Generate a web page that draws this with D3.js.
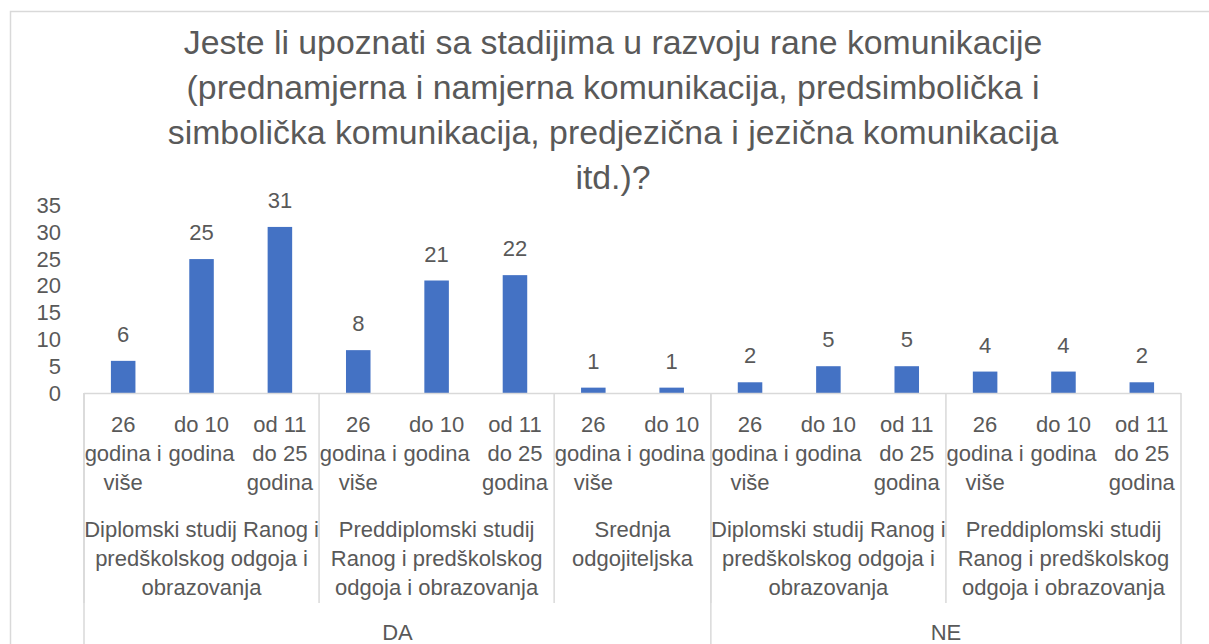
<!DOCTYPE html>
<html><head><meta charset="utf-8">
<script src="https://cdn.jsdelivr.net/npm/d3@7"></script>
<style>
body{margin:0;background:#fff}
text{font-family:'Liberation Sans',Arial,sans-serif;fill:#595959}
</style></head>
<body><svg id="c" width="1209" height="644"></svg>
<script>
const titleLines = [
  "Jeste li upoznati sa stadijima u razvoju rane komunikacije",
  "(prednamjerna i namjerna komunikacija, predsimbolička i",
  "simbolička komunikacija, predjezična i jezična komunikacija",
  "itd.)?"
];
const answers = ["DA","DA","DA","DA","DA","DA","DA","DA","NE","NE","NE","NE","NE","NE"];
const programmes = [
  "Diplomski studij Ranog i\npredškolskog odgoja i\nobrazovanja",
  "Diplomski studij Ranog i\npredškolskog odgoja i\nobrazovanja",
  "Diplomski studij Ranog i\npredškolskog odgoja i\nobrazovanja",
  "Preddiplomski studij\nRanog i predškolskog\nodgoja i obrazovanja",
  "Preddiplomski studij\nRanog i predškolskog\nodgoja i obrazovanja",
  "Preddiplomski studij\nRanog i predškolskog\nodgoja i obrazovanja",
  "Srednja\nodgojiteljska",
  "Srednja\nodgojiteljska",
  "Diplomski studij Ranog i\npredškolskog odgoja i\nobrazovanja",
  "Diplomski studij Ranog i\npredškolskog odgoja i\nobrazovanja",
  "Diplomski studij Ranog i\npredškolskog odgoja i\nobrazovanja",
  "Preddiplomski studij\nRanog i predškolskog\nodgoja i obrazovanja",
  "Preddiplomski studij\nRanog i predškolskog\nodgoja i obrazovanja",
  "Preddiplomski studij\nRanog i predškolskog\nodgoja i obrazovanja"
];
const ages = [
  "26\ngodina i\nviše","do 10\ngodina","od 11\ndo 25\ngodina",
  "26\ngodina i\nviše","do 10\ngodina","od 11\ndo 25\ngodina",
  "26\ngodina i\nviše","do 10\ngodina",
  "26\ngodina i\nviše","do 10\ngodina","od 11\ndo 25\ngodina",
  "26\ngodina i\nviše","do 10\ngodina","od 11\ndo 25\ngodina"
];
const values = [6,25,31,8,21,22,1,1,2,5,5,4,4,2];
const yTicks = [0,5,10,15,20,25,30,35];

const svg = d3.select("#c");
const grid = "#d9d9d9";
const labelSize = 22, titleSize = 33.8;
const axisY = 393, left = 84, right = 1181;

// chart border
svg.append("rect").attr("x",10.5).attr("y",11.5).attr("width",1220).attr("height",700)
  .attr("fill","none").attr("stroke",grid).attr("stroke-width",1.5);

// title
svg.append("g").selectAll("text").data(titleLines).join("text")
  .attr("x",613).attr("y",(d,i)=>54+i*45).attr("text-anchor","middle")
  .attr("font-size",titleSize).text(d=>d);

const idx = d3.range(values.length);
const x = d3.scaleBand().domain(idx).range([left,right]).paddingInner(0.687).paddingOuter(0.3435);
const y = d3.scaleLinear().domain([0,35]).range([axisY,205.5]);

// y axis
const ya = svg.append("g").attr("transform",`translate(${left},0)`)
  .call(d3.axisLeft(y).tickValues(yTicks).tickSize(0).tickPadding(23));
ya.select(".domain").remove();
ya.selectAll("text").attr("font-size",labelSize).attr("fill","#595959")
  .attr("font-family","'Liberation Sans',Arial,sans-serif");

// bars
svg.append("g").selectAll("rect").data(idx).join("rect")
  .attr("x",i=>x(i)).attr("width",x.bandwidth())
  .attr("y",i=>y(values[i])).attr("height",i=>axisY-y(values[i]))
  .attr("fill","#4472C4");

// data labels
svg.append("g").selectAll("text").data(idx).join("text")
  .attr("x",i=>x(i)+x.bandwidth()/2).attr("y",i=>y(values[i])-19)
  .attr("text-anchor","middle").attr("font-size",labelSize).text(i=>values[i]);

// category axis line
svg.append("line").attr("x1",left).attr("x2",right).attr("y1",axisY+0.5).attr("y2",axisY+0.5)
  .attr("stroke",grid).attr("stroke-width",1.5);

const step = x.step();
const cx = i => x(i)+x.bandwidth()/2;

function multiline(g, text, xc, y0, lh){
  const t = g.append("text").attr("text-anchor","middle").attr("font-size",labelSize);
  text.split("\n").forEach((l,k)=>t.append("tspan").attr("x",xc).attr("y",y0+k*lh).text(l));
}

// level 0: ages
const g0 = svg.append("g");
idx.forEach(i=>multiline(g0, ages[i], cx(i), 432, 29));

// runs
function runs(keyFn){
  const out=[]; idx.forEach(i=>{
    const k=keyFn(i);
    if(out.length && out[out.length-1].key===k) out[out.length-1].end=i;
    else out.push({key:k,start:i,end:i});
  }); return out;
}
const r1 = runs(i=>answers[i]+"|"+programmes[i]);
const r2 = runs(i=>answers[i]);

const gl = svg.append("g");
r1.forEach(r=>{
  const x0 = left + r.start*step, x1 = left + (r.end+1)*step;
  gl.append("line").attr("x1",x0).attr("x2",x0).attr("y1",axisY).attr("y2",603)
    .attr("stroke",grid).attr("stroke-width",1.5);
  multiline(gl, programmes[r.start], (x0+x1)/2, 537, 29);
});
r2.forEach(r=>{
  const x0 = left + r.start*step, x1 = left + (r.end+1)*step;
  gl.append("line").attr("x1",x0).attr("x2",x0).attr("y1",axisY).attr("y2",644)
    .attr("stroke",grid).attr("stroke-width",1.5);
  gl.append("text").attr("x",(x0+x1)/2).attr("y",640).attr("text-anchor","middle")
    .attr("font-size",labelSize).text(answers[r.start]);
});
gl.append("line").attr("x1",right).attr("x2",right).attr("y1",axisY).attr("y2",644)
  .attr("stroke",grid).attr("stroke-width",1.5);
</script>
</body></html>
